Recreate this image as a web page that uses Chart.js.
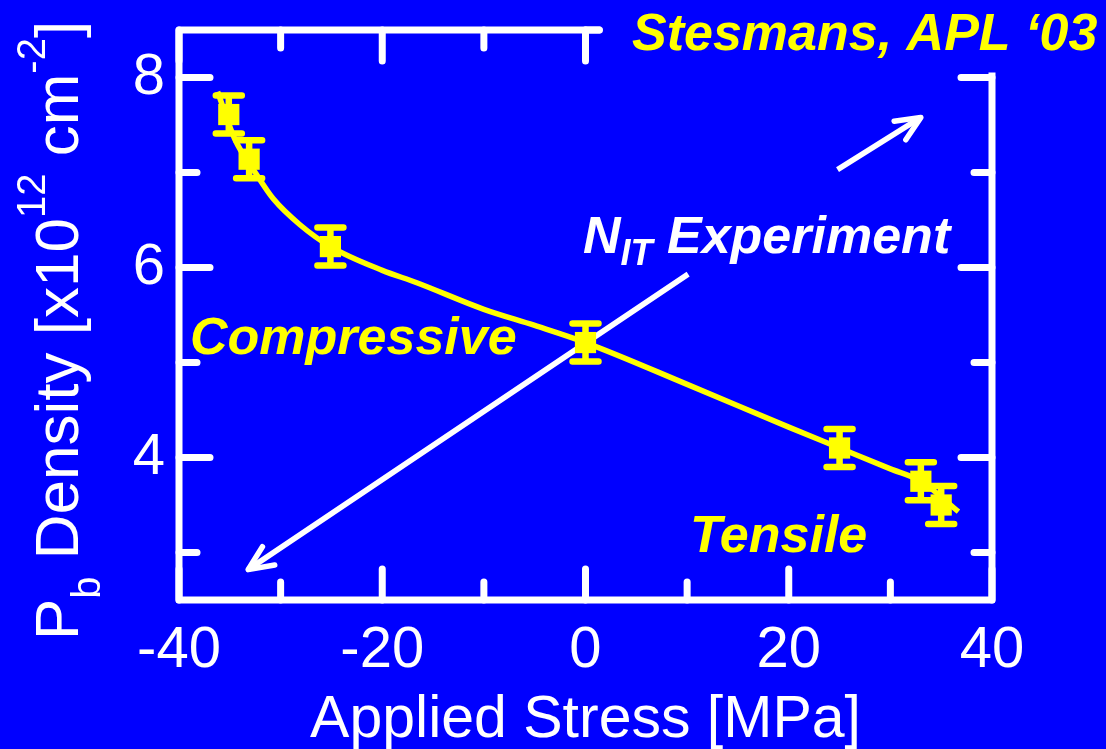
<!DOCTYPE html>
<html>
<head>
<meta charset="utf-8">
<script src="https://cdn.jsdelivr.net/npm/chart.js@4.4.0/dist/chart.umd.min.js"></script>
<style>
html, body { margin: 0; padding: 0; background: #0000ff; }
</style>
</head>
<body>
<canvas id="chart_pb" width="1106" height="749"></canvas>
<script>
// Pb density vs applied stress
var stress = [-35.1, -33.1, -25.1, 0, 25.0, 33.0, 35.0];
var density = [7.61, 7.14, 6.22, 5.21, 4.10, 3.75, 3.50];
var densityErr = [0.2, 0.2, 0.2, 0.2, 0.2, 0.2, 0.2];

// yellow guide curve through the points
var fitStress = [-36.2, -34.5, -32.5, -30.7, -28.1, -25.1, -20, -16.6, -10, -5, 0, 10, 20, 25, 30, 33, 36.7];
var fitDensity = [7.85, 7.35, 7.0, 6.72, 6.45, 6.22, 5.97, 5.84, 5.56, 5.39, 5.21, 4.77, 4.32, 4.10, 3.88, 3.75, 3.43];

// white N_IT experiment trend (gap behind the label)
var nitStress = [-33.2, 10.1, 17, 24.8, 33.0];
var nitValue = [2.82, 5.93, null, 7.03, 7.58];

// ticks
var xMajor = [-40, -20, 0, 20, 40];
var xMinor = [-30, -10, 10, 30];
var yMajor = [4, 6, 8];
var yMinor = [3, 5, 7];

var FONT = "'Liberation Sans', Arial, sans-serif";
var BLUE = '#0000ff';
var YELLOW = '#ffff00';
var WHITE = '#ffffff';

function toPoints(xs, ys) {
    return xs.map(function (x, i) { return { x: x, y: ys[i] }; });
}

function arrowHead(ctx, tipX, tipY, fromX, fromY) {
    var a = Math.atan2(fromY - tipY, fromX - tipX);
    var len = 27, spread = 0.42;
    ctx.beginPath();
    ctx.moveTo(tipX + len * Math.cos(a + spread), tipY + len * Math.sin(a + spread));
    ctx.lineTo(tipX, tipY);
    ctx.lineTo(tipX + len * Math.cos(a - spread), tipY + len * Math.sin(a - spread));
    ctx.stroke();
}

var decorPlugin = {
    id: 'pbDecor',
    beforeDraw: function (chart) {
        var ctx = chart.ctx;
        ctx.save();
        ctx.fillStyle = BLUE;
        ctx.fillRect(0, 0, chart.width, chart.height);
        ctx.restore();
    },
    beforeDatasetsDraw: function (chart) {
        var ctx = chart.ctx, xs = chart.scales.x, ys = chart.scales.y;
        ctx.save();
        ctx.strokeStyle = YELLOW;
        ctx.lineCap = 'round';
        ctx.lineWidth = 6.5;
        for (var i = 0; i < stress.length; i++) {
            var px = xs.getPixelForValue(stress[i]);
            var top = ys.getPixelForValue(density[i] + densityErr[i]);
            var bot = ys.getPixelForValue(density[i] - densityErr[i]);
            ctx.beginPath();
            ctx.moveTo(px, top); ctx.lineTo(px, bot);
            ctx.moveTo(px - 13, top); ctx.lineTo(px + 13, top);
            ctx.moveTo(px - 13, bot); ctx.lineTo(px + 13, bot);
            ctx.stroke();
        }
        ctx.restore();
    },
    afterDatasetsDraw: function (chart) {
        var ctx = chart.ctx, xs = chart.scales.x, ys = chart.scales.y;
        var a = chart.chartArea;
        ctx.save();

        // frame + inward ticks on all four sides
        ctx.strokeStyle = WHITE;
        ctx.lineWidth = 7;
        ctx.lineCap = 'round';
        ctx.lineJoin = 'round';
        ctx.strokeRect(a.left, a.top, a.right - a.left, a.bottom - a.top);
        function xTick(v, len) {
            var px = xs.getPixelForValue(v);
            ctx.beginPath();
            ctx.moveTo(px, a.bottom); ctx.lineTo(px, a.bottom - len);
            ctx.moveTo(px, a.top); ctx.lineTo(px, a.top + len);
            ctx.stroke();
        }
        function yTick(v, len) {
            var py = ys.getPixelForValue(v);
            ctx.beginPath();
            ctx.moveTo(a.left, py); ctx.lineTo(a.left + len, py);
            ctx.moveTo(a.right, py); ctx.lineTo(a.right - len, py);
            ctx.stroke();
        }
        xMajor.forEach(function (v) { xTick(v, 31); });
        xMinor.forEach(function (v) { xTick(v, 18); });

        // citation box hides the top-right part of the frame
        ctx.fillStyle = BLUE;
        ctx.fillRect(xs.getPixelForValue(0) + 15, 0, chart.width, ys.getPixelForValue(8) - 5);
        ctx.lineCap = 'round';
        ctx.beginPath();
        ctx.moveTo(xs.getPixelForValue(0) + 14, a.top);
        ctx.lineTo(xs.getPixelForValue(0), a.top);
        ctx.stroke();

        yMajor.forEach(function (v) { yTick(v, 31); });
        yMinor.forEach(function (v) { yTick(v, 18); });

        // arrow heads on the N_IT line
        ctx.lineWidth = 5.5;
        var n = nitStress.length - 1;
        arrowHead(ctx, xs.getPixelForValue(nitStress[0]), ys.getPixelForValue(nitValue[0]),
            xs.getPixelForValue(nitStress[1]), ys.getPixelForValue(nitValue[1]));
        arrowHead(ctx, xs.getPixelForValue(nitStress[n]), ys.getPixelForValue(nitValue[n]),
            xs.getPixelForValue(nitStress[n - 1]), ys.getPixelForValue(nitValue[n - 1]));

        // annotations
        ctx.textBaseline = 'alphabetic';
        ctx.textAlign = 'left';
        ctx.fillStyle = YELLOW;
        ctx.font = 'italic bold 52px ' + FONT;
        ctx.fillText('Stesmans, APL \u201803', 632, 50);
        ctx.fillText('Compressive', 190, 354);
        ctx.fillText('Tensile', 690, 552);

        ctx.fillStyle = WHITE;
        var nx = 583;
        ctx.fillText('N', nx, 253);
        nx += ctx.measureText('N').width;
        ctx.font = 'italic bold 36px ' + FONT;
        ctx.fillText('IT', nx, 265);
        nx += ctx.measureText('IT').width;
        ctx.font = 'italic bold 52px ' + FONT;
        ctx.fillText(' Experiment', nx, 253);

        // x title
        ctx.font = '59px ' + FONT;
        ctx.textAlign = 'center';
        ctx.fillText('Applied Stress [MPa]', (a.left + a.right) / 2, 737);

        // y title with sub/superscripts
        ctx.translate(78, 640);
        ctx.rotate(-Math.PI / 2);
        ctx.textAlign = 'left';
        var parts = [
            ['P', 62, 0], ['b', 40, 22], [' Density [x10', 62, 0],
            ['12', 40, -33], [' cm', 62, 0], ['-2', 40, -33], [']', 62, 0]
        ];
        var tx = 0;
        parts.forEach(function (p) {
            ctx.font = p[1] + 'px ' + FONT;
            ctx.fillText(p[0], tx, p[2]);
            tx += ctx.measureText(p[0]).width;
        });
        ctx.restore();
    }
};

var ctxPb = document.getElementById('chart_pb').getContext('2d');
var chartPb = new Chart(ctxPb, {
    type: 'scatter',
    data: {
        datasets: [{
            label: 'fit',
            data: toPoints(fitStress, fitDensity),
            showLine: true,
            borderColor: YELLOW,
            borderWidth: 5.5,
            pointRadius: 0,
            cubicInterpolationMode: 'monotone',
            order: 2
        }, {
            label: 'NIT',
            data: toPoints(nitStress, nitValue),
            showLine: true,
            spanGaps: false,
            borderColor: WHITE,
            borderWidth: 5.5,
            pointRadius: 0,
            order: 3
        }, {
            label: 'Pb',
            data: toPoints(stress, density),
            pointStyle: 'rect',
            pointRadius: 15,
            backgroundColor: YELLOW,
            borderWidth: 0,
            order: 1
        }]
    },
    options: {
        responsive: false,
        animation: false,
        devicePixelRatio: 1,
        layout: { padding: { top: 30, right: 114, left: 0, bottom: 0 } },
        plugins: { legend: { display: false }, tooltip: { enabled: false } },
        scales: {
            x: {
                type: 'linear',
                min: -40, max: 40,
                afterBuildTicks: function (s) { s.ticks = xMajor.map(function (v) { return { value: v }; }); },
                afterFit: function (s) { s.height = 149; s.paddingLeft = 0; s.paddingRight = 0; },
                grid: { display: false, drawTicks: false },
                border: { display: false },
                ticks: { color: WHITE, font: { family: FONT, size: 58 }, padding: 16, autoSkip: false, maxRotation: 0 }
            },
            y: {
                type: 'linear',
                min: 2.5, max: 8.5,
                afterBuildTicks: function (s) { s.ticks = yMajor.map(function (v) { return { value: v }; }); },
                afterFit: function (s) { s.width = 179; s.paddingTop = 0; s.paddingBottom = 0; },
                grid: { display: false, drawTicks: false },
                border: { display: false },
                ticks: { color: WHITE, font: { family: FONT, size: 58 }, padding: 14 }
            }
        }
    },
    plugins: [decorPlugin]
});
</script>
</body>
</html>
